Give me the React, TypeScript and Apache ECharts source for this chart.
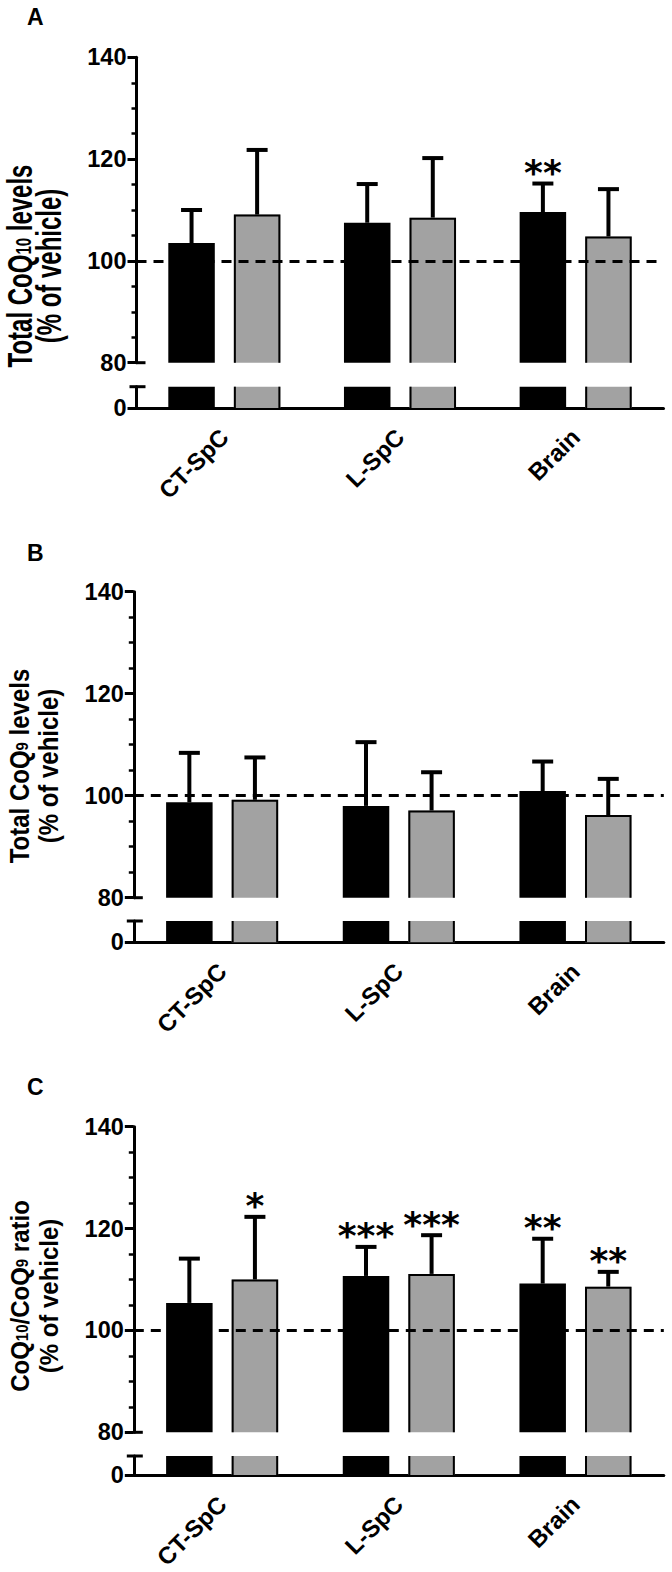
import React, { useEffect, useRef } from "react";
import * as echarts from "echarts";

// ---------- data ----------
const categories = ["CT-SpC", "L-SpC", "Brain"];

const panelLetters = ["A", "B", "C"];
const titleLine1 = [
  "{a|Total CoQ}{s|10}{a| levels}",
  "{a|Total CoQ}{s|9}{a| levels}",
  "{a|CoQ}{s|10}{a|/CoQ}{s|9}{a| ratio}",
];
const titleLine2 = "(% of vehicle)";

// Panel A: total CoQ10
const aBlackMean = [103.5, 107.5, 109.6];
const aBlackSD = [6.5, 7.6, 5.6];
const aGrayMean = [109.1, 108.5, 104.8];
const aGraySD = [12.7, 11.7, 9.3];
const aBlackSig = ["", "", "**"];
const aGraySig = ["", "", ""];

// Panel B: total CoQ9
const bBlackMean = [98.7, 98.0, 100.9];
const bBlackSD = [9.7, 12.5, 5.8];
const bGrayMean = [99.2, 97.1, 96.2];
const bGraySD = [8.3, 7.5, 7.1];
const bBlackSig = ["", "", ""];
const bGraySig = ["", "", ""];

// Panel C: CoQ10/CoQ9 ratio
const cBlackMean = [105.4, 110.7, 109.2];
const cBlackSD = [8.7, 5.7, 8.8];
const cGrayMean = [110.0, 111.1, 108.6];
const cGraySD = [12.3, 7.6, 2.9];
const cBlackSig = ["", "***", "**"];
const cGraySig = ["*", "***", "**"];

const yTicks = [80, 100, 120, 140];
const refValue = 100;

// ---------- layout ----------
const W = 672;
const H = 1572;
const FONT = '"Liberation Sans", Arial, sans-serif';
const BAR_W = 46.5;
const BAR_GAP = 0.41;
const OFF = (BAR_W * (1 + BAR_GAP)) / 2;
const CAP = 10.5;

const layouts = [
  { left: 136.5, width: 527, top: 57.3, upperBottom: 362.7, lowerTop: 386.7, bottom: 408, letterY: 17, titleY: 266, titleScale: 1.45 },
  { left: 133.8, width: 530, top: 591.7, upperBottom: 897.7, lowerTop: 921, bottom: 942.3, letterY: 553, titleY: 766, titleScale: 1.12 },
  { left: 133.8, width: 530, top: 1126.7, upperBottom: 1432.3, lowerTop: 1456, bottom: 1477.5, letterY: 1087, titleY: 1296, titleScale: 1.08 },
];

const panels = [
  { bm: aBlackMean, bs: aBlackSD, gm: aGrayMean, gs: aGraySD, bsig: aBlackSig, gsig: aGraySig },
  { bm: bBlackMean, bs: bBlackSD, gm: bGrayMean, gs: bGraySD, bsig: bBlackSig, gsig: bGraySig },
  { bm: cBlackMean, bs: cBlackSD, gm: cGrayMean, gs: cGraySD, bsig: cBlackSig, gsig: cGraySig },
];

function makeUpperCustom(mean: number[], sd: number[], sig: string[], sign: number, gray: boolean, axisIdx: number) {
  return {
    type: "custom",
    xAxisIndex: axisIdx,
    yAxisIndex: axisIdx,
    silent: true,
    z: 3,
    encode: { x: 0, y: 1 },
    data: mean.map((m, i) => [i, m, sd[i]]),
    renderItem: (params: any, api: any) => {
      const i = params.dataIndex;
      const cat = api.value(0);
      const m = api.value(1);
      const s = api.value(2);
      const p = api.coord([cat, m]);
      const pt = api.coord([cat, m + s]);
      const pb = api.coord([cat, yTicks[0]]);
      const x = p[0] + sign * OFF;
      const yM = p[1];
      const yT = pt[1];
      const yB = pb[1];
      const hw = BAR_W / 2 - 1;
      const children: any[] = [];
      if (gray) {
        children.push({
          type: "polyline",
          shape: { points: [[x - hw, yB], [x - hw, yM + 1], [x + hw, yM + 1], [x + hw, yB]] },
          style: { stroke: "#000", lineWidth: 2, fill: null },
        });
      }
      children.push({ type: "line", shape: { x1: x, y1: yM, x2: x, y2: yT }, style: { stroke: "#000", lineWidth: 4 } });
      children.push({ type: "line", shape: { x1: x - CAP, y1: yT, x2: x + CAP, y2: yT }, style: { stroke: "#000", lineWidth: 4 } });
      if (sig[i]) {
        children.push({
          type: "text",
          x,
          y: yT - 11,
          style: {
            text: sig[i],
            fill: "#000",
            fontSize: 36,
            fontWeight: "bold",
            fontFamily: '"DejaVu Sans", sans-serif',
            align: "center",
            verticalAlign: "middle",
          },
        });
      }
      return { type: "group", children };
    },
  };
}

function makeLowerCustom(mean: number[], sign: number, axisIdx: number) {
  return {
    type: "custom",
    xAxisIndex: axisIdx,
    yAxisIndex: axisIdx,
    silent: true,
    z: 3,
    encode: { x: 0, y: 1 },
    data: mean.map((m, i) => [i, m]),
    renderItem: (params: any, api: any) => {
      const cat = api.value(0);
      const p0 = api.coord([cat, 0]);
      const p1 = api.coord([cat, 1]);
      const x = p0[0] + sign * OFF;
      const hw = BAR_W / 2 - 1;
      return {
        type: "group",
        children: [
          { type: "line", shape: { x1: x - hw, y1: p0[1], x2: x - hw, y2: p1[1] }, style: { stroke: "#000", lineWidth: 2 } },
          { type: "line", shape: { x1: x + hw, y1: p0[1], x2: x + hw, y2: p1[1] }, style: { stroke: "#000", lineWidth: 2 } },
        ],
      };
    },
  };
}

function titleText(text: string, x: number, y: number, scale: number) {
  return {
    type: "text",
    x,
    y,
    rotation: Math.PI / 2,
    scaleX: 1,
    scaleY: scale,
    style: {
      text,
      fill: "#000",
      align: "center",
      verticalAlign: "middle",
      rich: {
        a: { fontSize: 24, fontWeight: "bold", fontFamily: FONT, lineHeight: 20, fill: "#000" },
        s: { fontSize: 15, fontWeight: "bold", fontFamily: FONT, verticalAlign: "bottom", lineHeight: 12, fill: "#000" },
      },
    },
  };
}

function buildOption() {
  const grid: any[] = [];
  const xAxis: any[] = [];
  const yAxis: any[] = [];
  const series: any[] = [];
  const graphic: any[] = [];

  layouts.forEach((L, p) => {
    const up = 2 * p;
    const lo = 2 * p + 1;
    grid.push({ left: L.left, top: L.top, width: L.width, height: L.upperBottom - L.top, containLabel: false });
    grid.push({ left: L.left, top: L.lowerTop, width: L.width, height: L.bottom - L.lowerTop, containLabel: false });

    xAxis.push({ type: "category", gridIndex: up, data: categories, show: false });
    xAxis.push({
      type: "category",
      gridIndex: lo,
      data: categories,
      axisLine: { lineStyle: { color: "#000", width: 3 } },
      axisTick: { alignWithLabel: true, length: 9, lineStyle: { color: "#000", width: 3 } },
      axisLabel: { rotate: 45, fontSize: 24, fontWeight: "bold", color: "#000", fontFamily: FONT, margin: 25, interval: 0 },
    });

    yAxis.push({
      type: "value",
      gridIndex: up,
      min: yTicks[0],
      max: yTicks[yTicks.length - 1],
      interval: 20,
      axisLine: { show: true, lineStyle: { color: "#000", width: 3 } },
      axisTick: { show: true, length: 9, lineStyle: { color: "#000", width: 3 } },
      minorTick: { show: true, splitNumber: 4, length: 5, lineStyle: { color: "#000", width: 2.5 } },
      splitLine: { show: false },
      axisLabel: { fontSize: 23.5, fontWeight: "bold", color: "#000", fontFamily: FONT, margin: 10 },
    });
    yAxis.push({
      type: "value",
      gridIndex: lo,
      min: 0,
      max: 1,
      interval: 1,
      axisLine: { show: true, lineStyle: { color: "#000", width: 3 } },
      axisTick: { show: true, length: 9, customValues: [0], lineStyle: { color: "#000", width: 3 } },
      splitLine: { show: false },
      axisLabel: { fontSize: 23.5, fontWeight: "bold", color: "#000", fontFamily: FONT, margin: 10, customValues: [0], formatter: (v: number) => (v === 0 ? "0" : "") },
    });

    const P = panels[p];
    const barCommon = { barWidth: BAR_W, barGap: BAR_GAP * 100 + "%", silent: true, clip: true };
    series.push({ ...barCommon, type: "bar", xAxisIndex: up, yAxisIndex: up, data: P.bm, itemStyle: { color: "#000" } });
    series.push({
      ...barCommon,
      type: "bar",
      xAxisIndex: up,
      yAxisIndex: up,
      data: P.gm,
      itemStyle: { color: "#a2a2a2" },
      markLine: {
        silent: true,
        symbol: ["none", "none"],
        label: { show: false },
        lineStyle: { type: [10, 7], width: 3, color: "#000" },
        emphasis: { disabled: true },
        data: [{ yAxis: refValue }],
      },
    });
    series.push({ ...barCommon, type: "bar", xAxisIndex: lo, yAxisIndex: lo, data: P.bm, itemStyle: { color: "#000" } });
    series.push({ ...barCommon, type: "bar", xAxisIndex: lo, yAxisIndex: lo, data: P.gm, itemStyle: { color: "#a2a2a2" } });
    series.push(makeUpperCustom(P.bm, P.bs, P.bsig, -1, false, up));
    series.push(makeUpperCustom(P.gm, P.gs, P.gsig, 1, true, up));
    series.push(makeLowerCustom(P.gm, 1, lo));

    // axis break caps
    graphic.push({ type: "line", shape: { x1: L.left, y1: L.upperBottom, x2: L.left + 9, y2: L.upperBottom }, style: { stroke: "#000", lineWidth: 3 } });
    graphic.push({ type: "line", shape: { x1: L.left - 7, y1: L.lowerTop, x2: L.left + 9, y2: L.lowerTop }, style: { stroke: "#000", lineWidth: 3 } });

    // panel letter
    graphic.push({
      type: "text",
      x: 27,
      y: L.letterY,
      style: { text: panelLetters[p], fill: "#000", fontSize: 23, fontWeight: "bold", fontFamily: FONT, align: "left", verticalAlign: "middle" },
    });

    // y-axis title, two rotated lines (stretched along their reading direction, like the reference)
    graphic.push(titleText(titleLine1[p], 19.5, L.titleY, L.titleScale));
    graphic.push(titleText("{a|" + titleLine2 + "}", 48.5, L.titleY, L.titleScale));
  });

  return { animation: false, backgroundColor: "#fff", grid, xAxis, yAxis, series, graphic };
}

export default function App() {
  const ref = useRef<HTMLDivElement>(null);
  useEffect(() => {
    if (!ref.current) return;
    const chart = echarts.init(ref.current, undefined, { renderer: "svg", width: W, height: H });
    chart.setOption(buildOption() as any);
    return () => chart.dispose();
  }, []);
  return <div ref={ref} style={{ position: "absolute", left: 0, top: 0, width: W, height: H, background: "#fff" }} />;
}
